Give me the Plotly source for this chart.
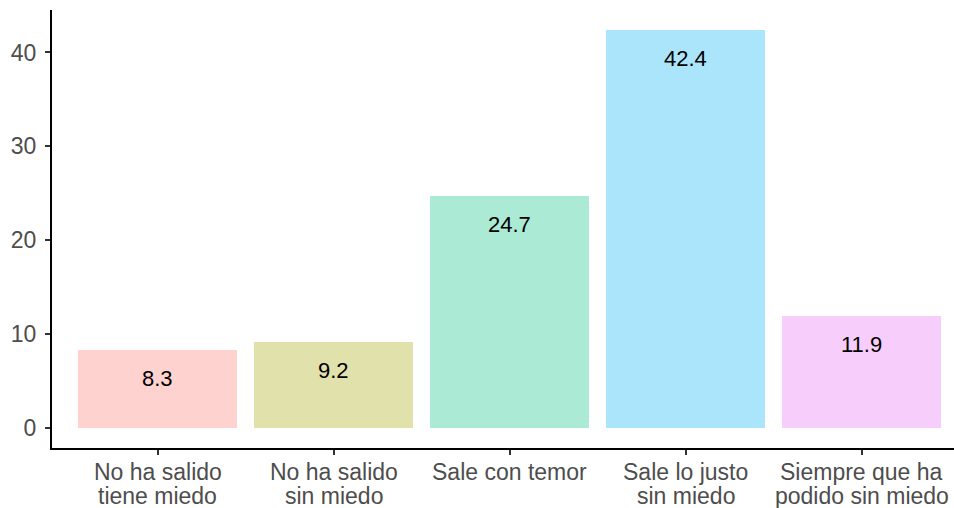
import plotly.graph_objects as go

label_line1 = ["No ha salido", "No ha salido", "Sale con temor", "Sale lo justo", "Siempre que ha"]
label_line2 = ["tiene miedo", "sin miedo", "", "sin miedo", "podido sin miedo"]
values = [8.3, 9.2, 24.7, 42.4, 11.9]
labels = ["8.3", "9.2", "24.7", "42.4", "11.9"]
colors = ["#FDD2CF", "#E1E1AB", "#ABEAD4", "#ABE5FC", "#F7CEFB"]
y_ticks = [0, 10, 20, 30, 40]

FONT = "Liberation Sans, Arial, sans-serif"
positions = list(range(len(values)))

fig = go.Figure()
fig.add_trace(go.Bar(
    x=positions, y=values,
    marker=dict(color=colors, line=dict(width=0)),
    width=0.9, showlegend=False, hoverinfo="skip",
))
for i, (v, t) in enumerate(zip(values, labels)):
    fig.add_annotation(x=i, y=v, text=t, showarrow=False, yanchor="top", yshift=-14,
                       font=dict(family=FONT, size=22, color="black"))

# category labels (two lines each, tight ggplot-like line spacing)
for i, (l1, l2) in enumerate(zip(label_line1, label_line2)):
    for line, shift in ((l1, -24), (l2, -48)):
        if line:
            fig.add_annotation(x=i, xref="x", y=0, yref="paper", text=line, showarrow=False,
                               yanchor="middle", yshift=shift,
                               font=dict(family=FONT, size=23, color="#4D4D4D"))

fig.update_layout(
    width=954, height=508,
    margin=dict(l=52, r=0, t=10, b=60),
    paper_bgcolor="white", plot_bgcolor="white",
    bargap=0,
    font=dict(family=FONT),
)
fig.update_xaxes(
    range=[-0.6, 4.525], tickmode="array", tickvals=positions, showticklabels=False,
    showline=True, linecolor="black", linewidth=2,
    ticks="outside", ticklen=5, tickwidth=1.5, tickcolor="#333333",
    showgrid=False, zeroline=False, automargin=False,
)
fig.update_yaxes(
    range=[-2.12, 44.52], tickmode="array", tickvals=y_ticks,
    showline=True, linecolor="black", linewidth=2,
    ticks="outside", ticklen=5, tickwidth=1.5, tickcolor="#333333",
    tickfont=dict(family=FONT, size=23, color="#4D4D4D"), showgrid=False, zeroline=False,
    ticklabelstandoff=4, automargin=False,
)
fig.write_html("out.html", config={"displayModeBar": False},
               post_script="document.body.style.margin='0';document.body.style.overflow='hidden';")
